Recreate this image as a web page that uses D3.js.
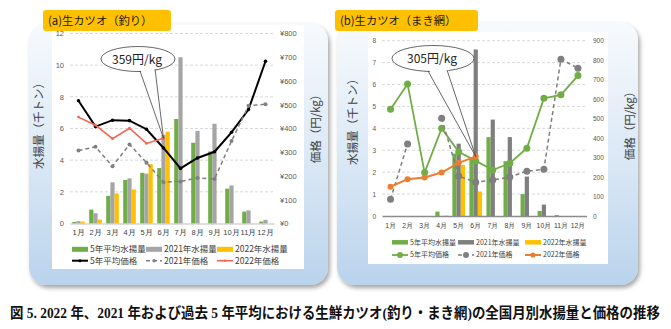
<!DOCTYPE html>
<html>
<head>
<meta charset="utf-8">
<script src="https://cdn.jsdelivr.net/npm/d3@7"></script>
<style>
  body { margin: 0; background: #fff; }
  svg { display: block; font-family: "Noto Sans CJK JP", "Noto Sans", sans-serif; }
</style>
</head>
<body>
<div id="wrapper"></div>
<script>
// monthly landings (thousand t) and prices (yen/kg)
const months = ["1月", "2月", "3月", "4月", "5月", "6月", "7月", "8月", "9月", "10月", "11月", "12月"];

// (a) pole-and-line
const poleAvgCatch = [0.1, 0.88, 1.75, 2.75, 3.2, 3.5, 6.6, 5.1, 4.55, 2.2, 0.75, 0.12];
const pole2021Catch = [0.15, 0.65, 2.6, 2.85, 3.15, 5.6, 10.5, 5.85, 6.3, 2.4, 0.83, 0.23];
const pole2022Catch = [0.12, 0.25, 1.9, 2.15, 3.75, 5.8, null, null, null, null, null, null];
const poleAvgPrice = [517, 408, 435, 433, 397, 318, 232, 276, 302, 384, 480, 683];
const pole2021Price = [307, 323, 241, 333, 256, 174, 177, 192, 187, 347, 496, 502];
const pole2022Price = [448, 414, 357, 401, 337, 359, null, null, null, null, null, null];

// (b) purse seine
const seineAvgCatch = [0, 0, 0, 0.2, 2.85, 2.65, 3.6, 2.5, 1.0, 0.23, 0.04, 0];
const seine2021Catch = [0, 0, 0, 0, 3.3, 7.6, 4.4, 3.6, 1.8, 0.52, 0, 0];
const seine2022Catch = [0, 0, 0, 0.02, 2.33, 1.12, null, null, null, null, null, null];
const seineAvgPrice = [548, 678, 223, 450, 330, 283, 236, 271, 348, 604, 622, 721];
const seine2021Price = [86, 370, null, 502, 205, 173, 185, 200, 230, 240, 805, 759];
const seine2022Price = [150, 189, 198, 223, 273, 305, null, null, null, null, null, null];

const poleCatchTicks = [0, 2, 4, 6, 8, 10, 12];
const polePriceTicks = [0, 100, 200, 300, 400, 500, 600, 700, 800];
const seineCatchTicks = [0, 1, 2, 3, 4, 5, 6, 7, 8];
const seinePriceTicks = [0, 100, 200, 300, 400, 500, 600, 700, 800, 900];

const catchNames = ["5年平均水揚量", "2021年水揚量", "2022年水揚量"];
const priceNames = ["5年平均価格", "2021年価格", "2022年価格"];

const svg = d3.select("#wrapper").append("svg")
  .attr("width", 671)
  .attr("height", 329);

const defs = svg.append("defs");
const grad = defs.append("linearGradient")
  .attr("id", "panelFill")
  .attr("x1", 0).attr("y1", 0).attr("x2", 0).attr("y2", 1);
grad.append("stop").attr("offset", "0%").attr("stop-color", "#f7fafd");
grad.append("stop").attr("offset", "55%").attr("stop-color", "#d9e7f5");
grad.append("stop").attr("offset", "100%").attr("stop-color", "#b9d3ec");

defs.append("filter")
  .attr("id", "shadow")
  .attr("x", "-5%").attr("y", "-5%").attr("width", "115%").attr("height", "115%")
  .append("feDropShadow")
  .attr("dx", 2).attr("dy", 3).attr("stdDeviation", 2)
  .attr("flood-color", "#000").attr("flood-opacity", 0.35);

function drawPanel(p) {
  const g = svg.append("g");

  // frame
  g.append("rect")
    .attr("x", p.x).attr("y", p.y)
    .attr("width", p.w).attr("height", p.h)
    .attr("rx", 18)
    .attr("fill", "url(#panelFill)")
    .attr("filter", "url(#shadow)");

  g.append("rect")
    .attr("x", p.plot.x).attr("y", p.plot.y)
    .attr("width", p.plot.w).attr("height", p.plot.h)
    .attr("fill", "#fff");

  // scales
  const x = d3.scaleBand().domain(months).range(p.xRange);
  const xSub = d3.scaleBand().domain([0, 1, 2]).range([2.2, x.bandwidth() - 2.2]);
  const yL = d3.scaleLinear().domain([0, p.catchMax]).range(p.yRange);
  const yR = d3.scaleLinear().domain([0, p.priceMax]).range(p.yRange);

  // gridlines
  g.append("g")
    .selectAll("line")
    .data(p.catchTicks.slice(1))
    .join("line")
    .attr("x1", p.xRange[0]).attr("x2", p.xRange[1])
    .attr("y1", (d) => yL(d)).attr("y2", (d) => yL(d))
    .attr("stroke", "#d9d9d9")
    .attr("stroke-dasharray", "3,2");

  // axes
  const leftAxis = g.append("g")
    .attr("transform", `translate(${p.leftTickX},0)`)
    .call(d3.axisLeft(yL).tickValues(p.catchTicks).tickSize(0).tickPadding(0));
  leftAxis.select(".domain").remove();
  leftAxis.selectAll("text")
    .attr("font-size", p.tickFont)
    .attr("font-family", "inherit")
    .attr("fill", "#595959");

  const rightAxis = g.append("g")
    .attr("transform", `translate(${p.rightTickX},0)`)
    .call(d3.axisRight(yR).tickValues(p.priceTicks).tickSize(0).tickPadding(0).tickFormat(p.priceFormat));
  rightAxis.select(".domain").remove();
  rightAxis.selectAll("text")
    .attr("font-size", p.tickFont)
    .attr("font-family", "inherit")
    .attr("fill", "#595959");

  // bars
  const barSeries = [p.catchA, p.catchB, p.catchC];
  barSeries.forEach((vals, i) => {
    g.append("g")
      .selectAll("rect")
      .data(vals.map((v, j) => ({ m: months[j], v })).filter((d) => d.v != null && d.v > 0))
      .join("rect")
      .attr("x", (d) => x(d.m) + xSub(i))
      .attr("y", (d) => yL(d.v))
      .attr("width", xSub.bandwidth())
      .attr("height", (d) => yL(0) - yL(d.v))
      .attr("fill", p.barColors[i]);
  });

  const bottomAxis = g.append("g")
    .attr("transform", `translate(0,${p.yRange[0]})`)
    .call(d3.axisBottom(x).tickSize(0).tickPadding(p.monthPad));
  bottomAxis.select(".domain")
    .attr("stroke", p.baseColor)
    .attr("stroke-width", p.baseWidth);
  bottomAxis.selectAll("text")
    .attr("font-size", p.monthFont)
    .attr("font-family", "inherit")
    .attr("fill", "#404040");

  // price lines
  const lineSeries = [p.priceA, p.priceB, p.priceC];
  lineSeries.forEach((vals, i) => {
    const st = p.lineStyles[i];
    const pts = vals.map((v, j) => ({ m: months[j], v }));
    const line = d3.line()
      .defined((d) => d.v != null)
      .x((d) => x(d.m) + x.bandwidth() / 2)
      .y((d) => yR(d.v));
    g.append("path")
      .datum(pts)
      .attr("d", line)
      .attr("fill", "none")
      .attr("stroke", st.color)
      .attr("stroke-width", st.width)
      .attr("stroke-dasharray", st.dash);
    g.append("g")
      .selectAll("circle")
      .data(pts.filter((d) => d.v != null))
      .join("circle")
      .attr("cx", (d) => x(d.m) + x.bandwidth() / 2)
      .attr("cy", (d) => yR(d.v))
      .attr("r", st.r)
      .attr("fill", st.color);
  });

  // callout for the latest 2022 price
  const c = p.callout;
  const tipX = x(months[c.index]) + x.bandwidth() / 2;
  const tipY = yR(p.priceC[c.index]);
  const co = g.append("g");
  co.append("ellipse")
    .attr("cx", c.cx).attr("cy", c.cy)
    .attr("rx", c.rx).attr("ry", c.ry)
    .attr("fill", "#fff")
    .attr("stroke", "#404040")
    .attr("stroke-width", 0.8);
  co.append("path")
    .attr("d", `M${c.baseL[0]},${c.baseL[1] - 3}L${tipX},${tipY}L${c.baseR[0]},${c.baseR[1] - 3}Z`)
    .attr("fill", "#fff");
  co.append("path")
    .attr("d", `M${c.baseL[0]},${c.baseL[1]}L${tipX},${tipY}L${c.baseR[0]},${c.baseR[1]}`)
    .attr("fill", "none")
    .attr("stroke", "#404040")
    .attr("stroke-width", 0.8);
  co.append("text")
    .attr("x", c.cx - 1).attr("y", c.cy + 4.5)
    .attr("text-anchor", "middle")
    .attr("font-size", 12)
    .attr("fill", "#222")
    .text(`${p.priceC[c.index]}円/kg`);

  // legend
  const lg = p.legend;
  const legend = g.append("g");
  catchNames.forEach((name, i) => {
    legend.append("rect")
      .attr("x", lg.cols[i]).attr("y", lg.row1 - lg.sw / 2)
      .attr("width", 16).attr("height", lg.sw)
      .attr("fill", p.barColors[i]);
    legend.append("text")
      .attr("x", lg.cols[i] + 18).attr("y", lg.row1)
      .attr("dy", "0.35em")
      .attr("font-size", lg.font)
      .attr("fill", "#404040")
      .text(name);
  });
  priceNames.forEach((name, i) => {
    const st = p.lineStyles[i];
    legend.append("line")
      .attr("x1", lg.cols[i]).attr("x2", lg.cols[i] + 16)
      .attr("y1", lg.row2).attr("y2", lg.row2)
      .attr("stroke", st.color)
      .attr("stroke-width", st.width)
      .attr("stroke-dasharray", st.dash);
    legend.append("circle")
      .attr("cx", lg.cols[i] + 8).attr("cy", lg.row2)
      .attr("r", st.r * 0.85)
      .attr("fill", st.color);
    legend.append("text")
      .attr("x", lg.cols[i] + 18).attr("y", lg.row2)
      .attr("dy", "0.35em")
      .attr("font-size", lg.font)
      .attr("fill", "#404040")
      .text(name);
  });

  // axis titles
  [[p.leftTitle, "水揚量（千トン）"], [p.rightTitle, "価格（円/kg）"]].forEach(([pos, label]) => {
    g.append("text")
      .attr("transform", `translate(${pos[0]},${pos[1]}) rotate(-90)`)
      .attr("text-anchor", "middle")
      .attr("dy", "0.35em")
      .attr("font-size", 11.5)
      .attr("fill", "#404040")
      .text(label);
  });

  // panel label
  g.append("rect")
    .attr("x", p.label.x).attr("y", p.label.y)
    .attr("width", p.label.w).attr("height", p.label.h)
    .attr("rx", 3)
    .attr("fill", "#ffc000");
  g.append("text")
    .attr("x", p.label.x + 5).attr("y", p.label.y + p.label.h / 2)
    .attr("dy", "0.36em")
    .attr("font-size", 11.3)
    .attr("fill", "#1a1a1a")
    .text(p.label.text);
}

drawPanel({
  x: 29, y: 23, w: 299, h: 262,
  plot: { x: 52, y: 25, w: 252, h: 244 },
  label: { text: "(a)生カツオ（釣り）", x: 43, y: 10, w: 128, h: 21 },
  xRange: [70, 274],
  yRange: [223.5, 33.5],
  catchMax: 12, catchTicks: poleCatchTicks,
  priceMax: 800, priceTicks: polePriceTicks,
  priceFormat: (d) => "¥" + d,
  leftTickX: 64, rightTickX: 280,
  tickFont: 7.5, monthFont: 7.5, monthPad: 6,
  baseColor: "#bfbfbf", baseWidth: 1,
  catchA: poleAvgCatch, catchB: pole2021Catch, catchC: pole2022Catch,
  priceA: poleAvgPrice, priceB: pole2021Price, priceC: pole2022Price,
  barColors: ["#70ad47", "#a5a5a5", "#ffc000"],
  lineStyles: [
    { color: "#000", width: 2, dash: null, r: 1.8 },
    { color: "#808080", width: 1.5, dash: "4,3", r: 2 },
    { color: "#f4664f", width: 1.6, dash: null, r: 1.4 }
  ],
  callout: { index: 5, cx: 138, cy: 59, rx: 37, ry: 12.5, baseL: [140, 71], baseR: [155, 69] },
  legend: { cols: [72, 146, 217], row1: 249.3, row2: 260.7, sw: 5, font: 8.5 },
  leftTitle: [39, 123], rightTitle: [316, 126]
});

drawPanel({
  x: 337, y: 22, w: 301, h: 263,
  plot: { x: 368, y: 32, w: 240, h: 232 },
  label: { text: "(b)生カツオ（まき網）", x: 335, y: 10, w: 143, h: 21 },
  xRange: [382, 586.5],
  yRange: [216, 40.7],
  catchMax: 8, catchTicks: seineCatchTicks,
  priceMax: 900, priceTicks: seinePriceTicks,
  priceFormat: (d) => d,
  leftTickX: 376, rightTickX: 593,
  tickFont: 6.5, monthFont: 6.8, monthPad: 7,
  baseColor: "#8c8c8c", baseWidth: 1.5,
  catchA: seineAvgCatch, catchB: seine2021Catch, catchC: seine2022Catch,
  priceA: seineAvgPrice, priceB: seine2021Price, priceC: seine2022Price,
  barColors: ["#70ad47", "#7f7f7f", "#ffc000"],
  lineStyles: [
    { color: "#70ad47", width: 1.8, dash: null, r: 3.5 },
    { color: "#7f7f7f", width: 1.5, dash: "4,3", r: 3.5 },
    { color: "#ed7d31", width: 2, dash: null, r: 3 }
  ],
  callout: { index: 5, cx: 433, cy: 58.5, rx: 41, ry: 13, baseL: [428, 71], baseR: [447, 70] },
  legend: { cols: [392, 458, 525], row1: 242.3, row2: 255, sw: 4.5, font: 7 },
  leftTitle: [353, 119], rightTitle: [630, 123]
});

// figure caption, squeezed horizontally to fit the page width
const caption = svg.append("text")
  .attr("x", 0).attr("y", 0)
  .attr("font-family", "'Liberation Serif', 'Noto Sans CJK JP', serif")
  .attr("font-weight", "bold")
  .attr("font-size", 14.5)
  .attr("fill", "#111")
  .text("図 5. 2022 年、2021 年および過去 5 年平均における生鮮カツオ(釣り・まき網)の全国月別水揚量と価格の推移");
const capWidth = caption.node().getComputedTextLength();
caption.attr("transform", `translate(10,318) scale(${650 / capWidth},1)`);
</script>
</body>
</html>
